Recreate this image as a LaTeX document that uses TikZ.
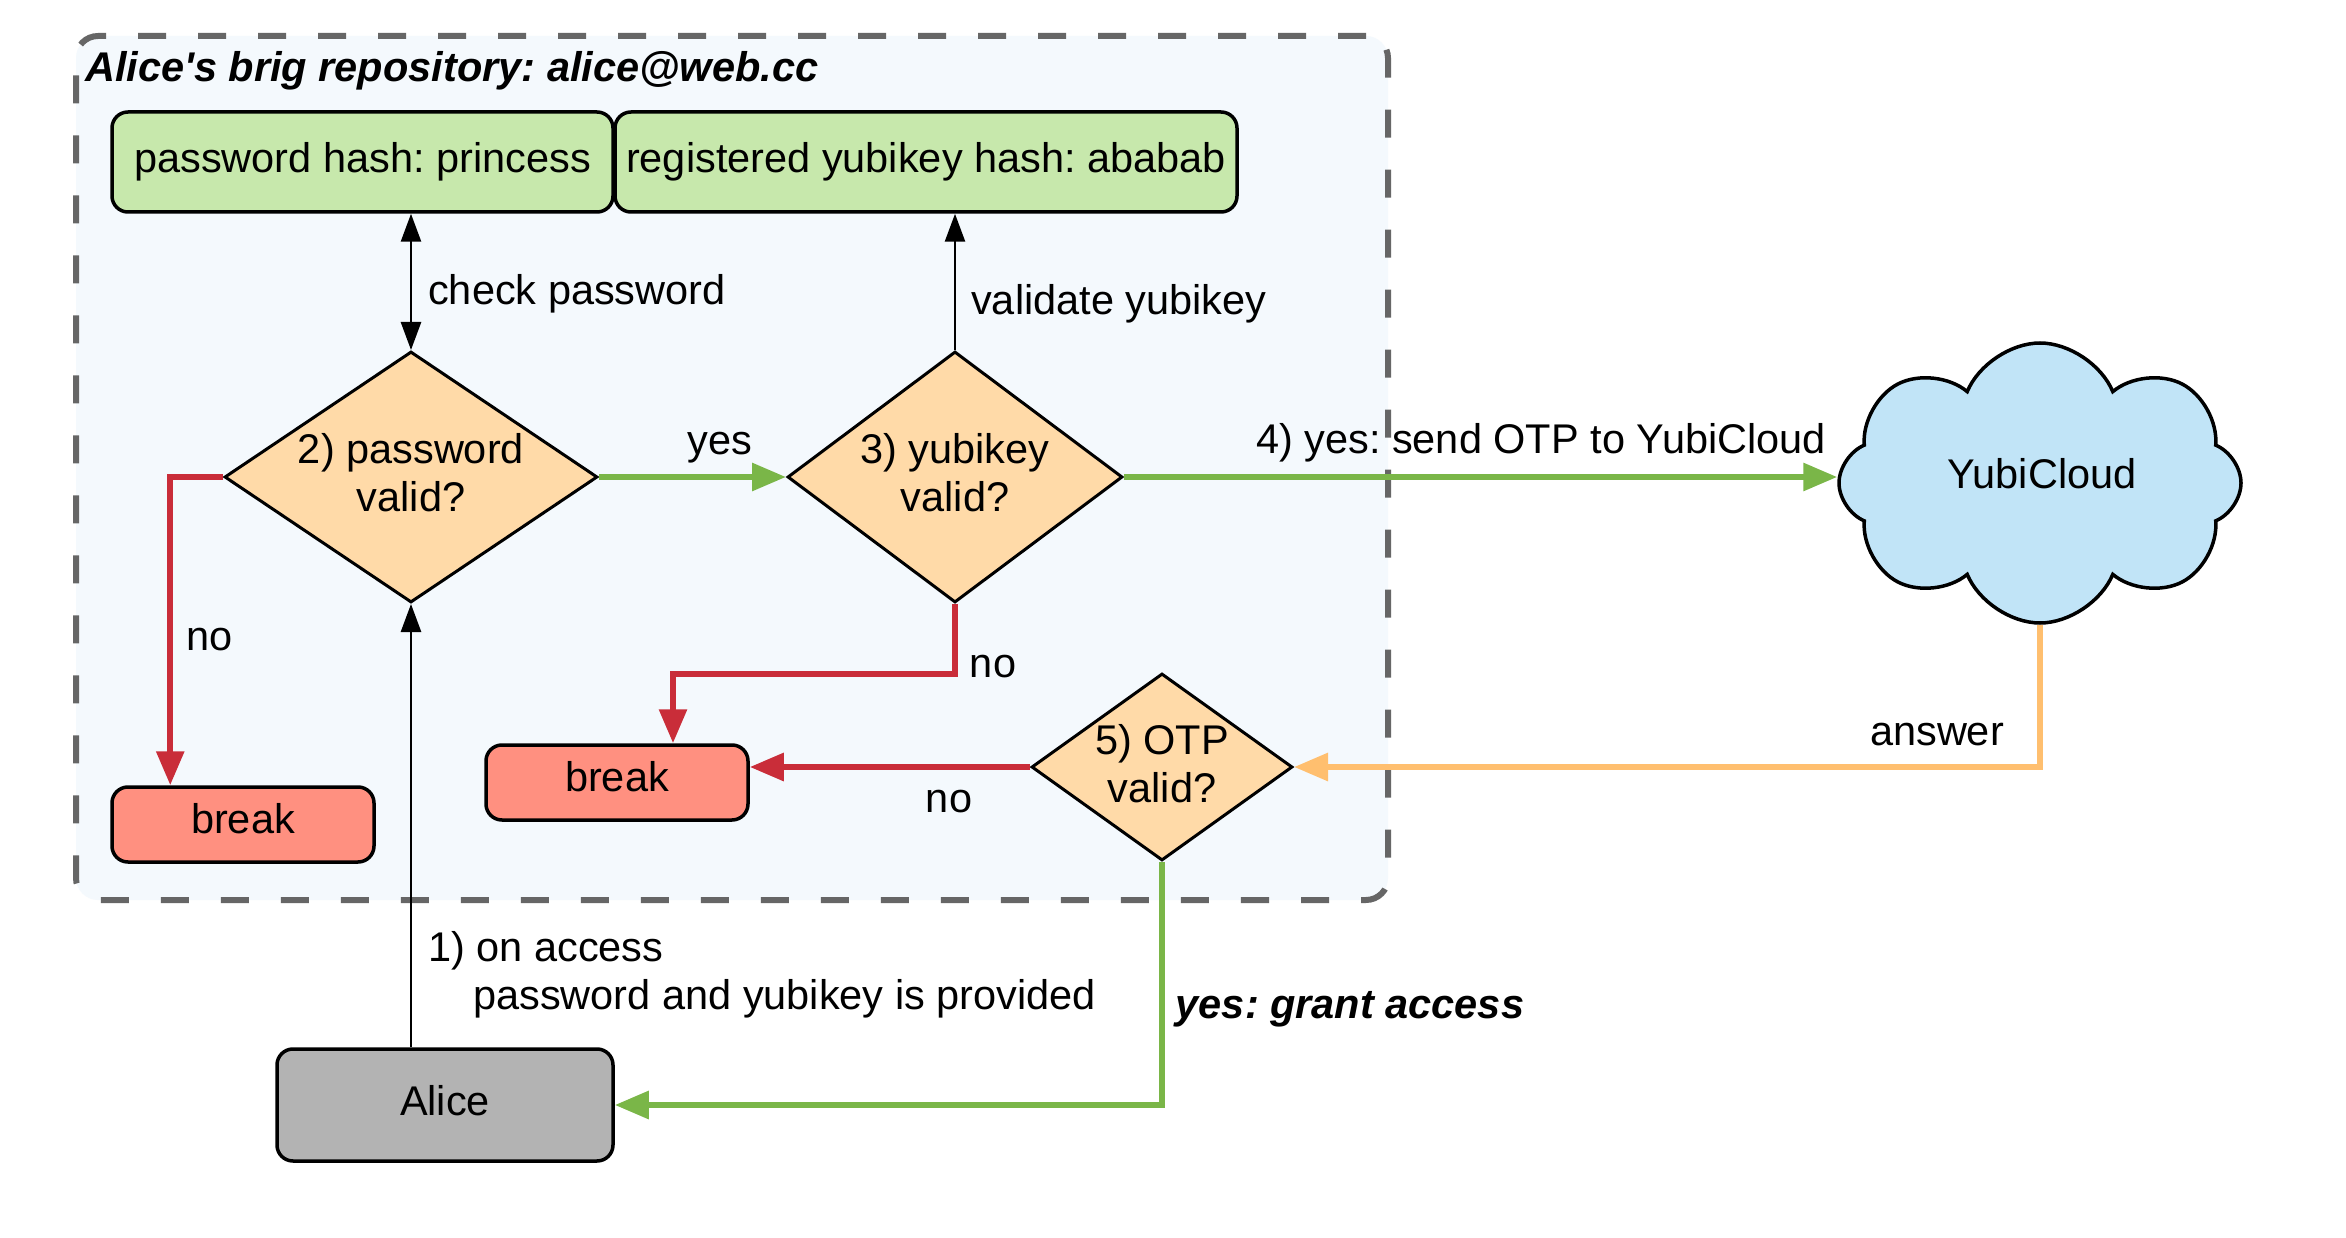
\documentclass[tikz,border=0pt]{standalone}
\usepackage{fontspec}
\setmainfont{Liberation Sans}[Ligatures=TeXOff]
\usetikzlibrary{shapes.geometric,shapes.symbols,arrows.meta,calc}
\frenchspacing
\definecolor{cgreen}{HTML}{7AB648}
\definecolor{cred}{HTML}{C92D39}
\definecolor{corange}{HTML}{FFBF6F}
\definecolor{cdiam}{HTML}{FFDAA8}
\definecolor{cgbox}{HTML}{C7E8AC}
\definecolor{cbreak}{HTML}{FF9080}
\definecolor{ccloud}{HTML}{C1E4F7}
\definecolor{calice}{HTML}{B3B3B3}
\definecolor{cframe}{HTML}{666666}
\definecolor{cfill}{HTML}{F4F9FD}
\newcommand{\dn}[1]{\rule[-#1pt]{0pt}{0pt}}
\tikzset{
  boxbase/.style={draw=black, line width=3.5pt, rounded corners=16pt, inner sep=0pt},
  gbox/.style={boxbase, fill=cgbox, minimum height=100pt},
  rbox/.style={boxbase, fill=cbreak, minimum width=262pt, minimum height=75pt},
  abox/.style={boxbase, fill=calice},
  dia/.style={diamond, draw=black, line width=3pt, fill=cdiam, inner sep=0pt, align=center},
  frame/.style={draw=cframe, fill=cfill, line width=6pt, dash pattern=on 28pt off 32pt, rounded corners=22pt, inner sep=0pt},
  lbl/.style={inner sep=0pt},
  blk/.style={draw=black, line width=2.6pt},
  blktip/.style={-{Triangle[length=28pt,width=20pt]}},
  grn/.style={draw=cgreen, line width=6pt, -{Triangle[length=34pt,width=27pt]}},
  rd/.style={draw=cred, line width=6pt, -{Triangle[length=34pt,width=27pt]}},
  orn/.style={draw=corange, line width=6pt, -{Triangle[length=34pt,width=27pt]}},
}
\begin{document}
\begin{tikzpicture}[x=1pt, y=-1pt, font=\fontsize{41.5}{48}\selectfont]
\useasboundingbox (0,0) rectangle (2346,1238);
\fill[white] (0,0) rectangle (2346,1238);

\node[frame, minimum width=1312pt, minimum height=864pt] (repo) at (732,468) {};
\node[lbl, anchor=west, font=\fontsize{41.5}{48}\selectfont\bfseries\itshape] (title) at (85,71) {Alice's brig repository: alice@web.cc};

\node[gbox, minimum width=501pt] (pw) at (362.5,162) {password hash: princess};
\node[gbox, minimum width=622pt] (yk) at (926,162) {registered yubikey hash: ababab};

\node[dia, aspect=1.486, minimum width=373pt, minimum height=251pt] (d2) at (411,477) {2) password\\valid?\dn{10}};
\node[dia, aspect=1.335, minimum width=335pt, minimum height=251pt] (d3) at (955,477) {3) yubikey\\valid?\dn{10}};
\node[dia, aspect=1.396, minimum width=261pt, minimum height=187pt] (d5) at (1162,767) {5) OTP\\valid?\dn{8}};

\node[rbox] (b1) at (243,824.5) {break\dn{12}};
\node[rbox] (b2) at (617,782.5) {break\dn{12}};
\node[abox, minimum width=336pt, minimum height=112pt] (alice) at (445,1105) {Alice\dn{9}};

\node[cloud, cloud puffs=8, cloud puff arc=135, aspect=1.45, draw=black, line width=3.5pt, fill=ccloud, minimum width=402pt, minimum height=280pt, inner sep=0pt] (cloud) at (2040,483) {};
\node[lbl] (cloudtxt) at (2042,474) {YubiCloud};

% connectors
\draw[blk, {Triangle[length=28pt,width=20pt]}-{Triangle[length=28pt,width=20pt]}] (d2.north |- pw.south) -- (d2.north);
\draw[blk, blktip] (d3.north) -- (d3.north |- yk.south);
\draw[grn] (d2.east) -- (d3.west);
\draw[grn] (d3.east) -- (d3.east -| cloud.west);
\draw[rd] (d2.west) -| ([xshift=60pt]b1.north west);
\draw[rd] (d3.south) -- ++(0,70) -| ([xshift=56pt]b2.north);
\draw[rd] (d5.west) -- (d5.west -| b2.east);
\draw[orn] (cloud.south) |- (d5.east);
\draw[blk, blktip] (d2.south |- alice.north) -- (d2.south);
\draw[grn] (d5.south) |- (alice.east);

% labels
\node[lbl, anchor=west] (lcheck) at (428,294) {check password};
\node[lbl, anchor=west] (lvalid) at (971,304) {validate yubikey};
\node[lbl] (lyes) at (720,448) {yes};
\node[lbl] (lsend) at (1541,443) {4) yes: send OTP to YubiCloud};
\node[lbl] (lno1) at (210,640) {no};
\node[lbl] (lno2) at (993,667) {no};
\node[lbl] (lno3) at (949,802) {no};
\node[lbl] (lans) at (1937,735) {answer};
\node[lbl, anchor=west, align=left] (lacc) at (428,975) {1) on access\\\hspace*{45pt}password and yubikey is provided};
\node[lbl, font=\fontsize{41.5}{48}\selectfont\bfseries\itshape] (lgrant) at (1350,1009) {yes: grant access};
\end{tikzpicture}
\end{document}
